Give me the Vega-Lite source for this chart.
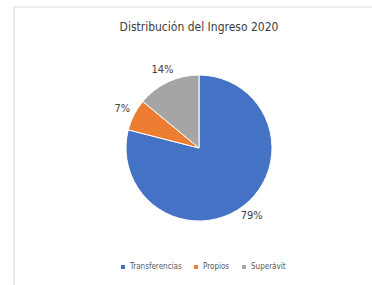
{
  "$schema": "https://vega.github.io/schema/vega-lite/v6.json",
  "width": 370,
  "height": 282,
  "autosize": {"type": "none"},
  "padding": {"left": 14, "top": 7, "right": 0, "bottom": 0},
  "background": "white",
  "config": {"view": {"stroke": null}},
  "title": {
    "text": "Distribución del Ingreso 2020",
    "anchor": "middle",
    "offset": -27,
    "fontSize": 12,
    "font": "DejaVu Sans Condensed, Liberation Sans, sans-serif",
    "fontWeight": "normal",
    "color": "#404040"
  },
  "data": {
    "values": [
      {"categoria": "Transferencias", "valor": 79, "orden": 1, "etiqueta": "79%"},
      {"categoria": "Propios", "valor": 7, "orden": 2, "etiqueta": "7%"},
      {"categoria": "Superávit", "valor": 14, "orden": 3, "etiqueta": "14%"}
    ]
  },
  "layer": [
    {
      "data": {"values": [{"marco": 1}]},
      "mark": {"type": "rect", "fill": null, "stroke": "#D9D9D9", "strokeWidth": 1},
      "encoding": {}
    },
    {
      "mark": {"type": "arc", "outerRadius": 73, "stroke": "white", "strokeWidth": 1},
      "encoding": {
        "theta": {"field": "valor", "type": "quantitative", "stack": true},
        "order": {"field": "orden", "type": "quantitative"},
        "color": {
          "field": "categoria",
          "type": "nominal",
          "scale": {
            "domain": ["Transferencias", "Propios", "Superávit"],
            "range": ["#4472C4", "#ED7D31", "#A5A5A5"]
          },
          "legend": {
            "title": null,
            "orient": "none",
            "direction": "horizontal",
            "legendX": 105,
            "legendY": 256,
            "symbolType": "square",
            "symbolSize": 16,
            "symbolStrokeWidth": 0,
            "labelFont": "DejaVu Sans Condensed, Liberation Sans, sans-serif",
            "labelFontSize": 8,
            "labelColor": "#595959",
            "columnPadding": 10,
            "labelOffset": 3
          }
        }
      }
    },
    {
      "mark": {"type": "text", "radius": 86, "font": "DejaVu Sans Condensed, Liberation Sans, sans-serif", "fontSize": 11, "color": "#404040"},
      "encoding": {
        "theta": {"field": "valor", "type": "quantitative", "stack": true},
        "order": {"field": "orden", "type": "quantitative"},
        "text": {"field": "etiqueta", "type": "nominal"}
      }
    }
  ]
}
